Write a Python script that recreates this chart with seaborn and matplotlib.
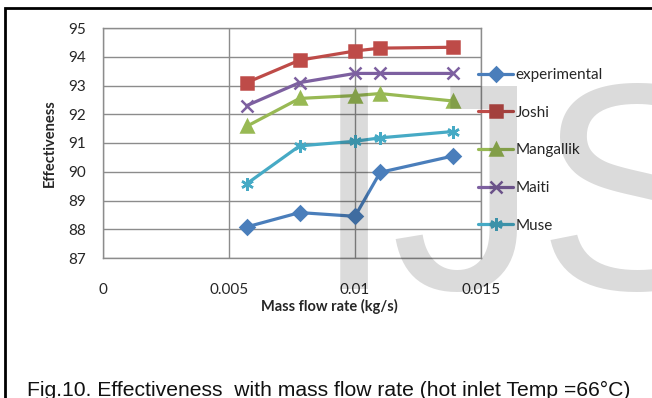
import matplotlib
matplotlib.use("Agg")
import matplotlib.pyplot as plt
import seaborn as sns
import pandas as pd
from matplotlib.patches import Rectangle

# ---- data ----
flow = [0.0057, 0.0078, 0.0100, 0.0110, 0.0139]
experimental = [88.08, 88.58, 88.45, 89.98, 90.55]
joshi = [93.10, 93.88, 94.20, 94.30, 94.33]
mangallik = [91.58, 92.55, 92.65, 92.72, 92.46]
maiti = [92.30, 93.10, 93.42, 93.42, 93.42]
muse = [89.58, 90.90, 91.06, 91.18, 91.40]
series_names = ["experimental", "Joshi", "Mangallik", "Maiti", "Muse"]
x_ticks = [0, 0.005, 0.01, 0.015]
x_tick_labels = ["0", "0.005", "0.01", "0.015"]
y_ticks = [87, 88, 89, 90, 91, 92, 93, 94, 95]

values = [experimental, joshi, mangallik, maiti, muse]
colors = ["#4A7EBB", "#BE4B48", "#98B954", "#7D60A0", "#46AAC5"]
markers = ["D", "s", "^", "x", (6, 2, 0)]
msizes = [7, 8.5, 8.5, 8, 9]

sns.set_style("white")
plt.rcParams["font.family"] = ["Lato", "DejaVu Sans"]

W, H = 652, 398
fig = plt.figure(figsize=(W / 100, H / 100), dpi=100)
ax = fig.add_axes([103 / W, 1 - 258 / H, (481 - 103) / W, (258 - 28) / H])

for name, vals, c, m, ms in zip(series_names, values, colors, markers, msizes):
    df = pd.DataFrame({"flow": flow, "eff": vals})
    sns.lineplot(data=df, x="flow", y="eff", ax=ax, color=c, marker=m,
                 markersize=ms, markeredgecolor=c, markerfacecolor=c,
                 markeredgewidth=1.8, linewidth=2.3, label=name)

ax.set_xlim(0, 0.015)
ax.set_ylim(87, 95)
ax.set_xticks(x_ticks)
ax.set_xticklabels(x_tick_labels)
ax.set_yticks(y_ticks)
ax.grid(True, color="#8c8c8c", linewidth=1.0)
ax.set_axisbelow(True)
for s in ax.spines.values():
    s.set_color("#8c8c8c")
    s.set_linewidth(1.0)
ax.tick_params(axis="both", length=0, labelsize=11, labelcolor="#262626")
ax.tick_params(axis="x", pad=18)
ax.tick_params(axis="y", pad=12)

ax.set_xlabel("Mass flow rate (kg/s)", fontsize=10.5, fontweight="bold", color="#262626")
ax.set_ylabel("Effectiveness", fontsize=10.5, fontweight="bold", color="#262626")
ax.xaxis.set_label_coords((329 - 103) / 378, -(299 - 258) / 230)
ax.yaxis.set_label_coords(-(103 - 57) / 378, 0.5)

leg = ax.legend(loc="upper left", bbox_to_anchor=(478 / W, 1 - 68 / H),
                bbox_transform=fig.transFigure, frameon=False, fontsize=11,
                handlelength=2.3, handletextpad=0.15, labelspacing=1.55,
                borderpad=0, borderaxespad=0)
for t in leg.get_texts():
    t.set_color("#262626")

# caption
fig.text(27 / W, 1 - 396 / H,
         "Fig.10. Effectiveness  with mass flow rate (hot inlet Temp =66°C)",
         fontsize=15.2, family="Liberation Sans", color="#111111",
         ha="left", va="baseline")

# outer border
fig.add_artist(Rectangle((5 / W, -0.1), 1.1, 1 - 7.5 / H + 0.1,
                         transform=fig.transFigure, fill=False,
                         edgecolor="black", linewidth=2, clip_on=False))

# watermark letters
for letter, xl in [("I", 313), ("J", 390), ("S", 537)]:
    fig.text(xl / W, 1 - 289 / H, letter, fontsize=213, family="Liberation Sans",
             color="black", alpha=0.14, ha="left", va="baseline", zorder=10)

fig.savefig("out.png", dpi=100)
